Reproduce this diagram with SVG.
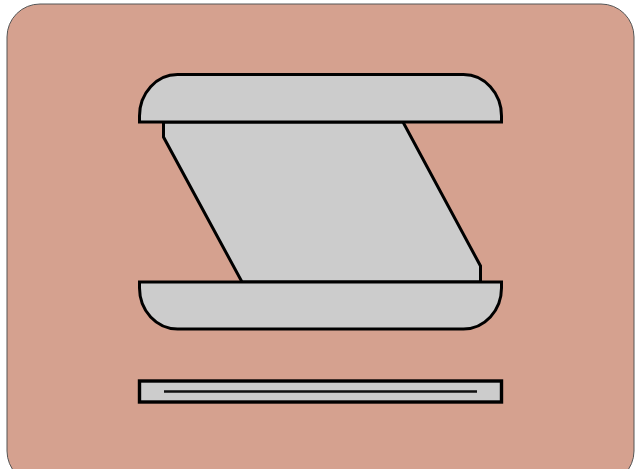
<svg xmlns="http://www.w3.org/2000/svg" width="638" height="469" viewBox="0 0 638 469">
<style>.p{fill:#ccc;stroke:#000;stroke-width:3;stroke-linejoin:miter}</style>
<rect id="bg" x="7" y="4" width="627" height="480" rx="33" ry="33" fill="#d5a18f" stroke="#555" stroke-width="1"/>
<g id="body"><path class="p" d="M163.500 122V137L242 282H480.500V266L403 122Z"/></g>
<g id="top"><path class="p" d="M139.500 122V116A38 41.500 0 0 1 177.500 74.500H463.500A38 41.500 0 0 1 501.500 116V122Z"/></g>
<g id="bottom"><path class="p" d="M139.500 282V288A38 41 0 0 0 177.500 329H463.500A38 41 0 0 0 501.500 288V282Z"/></g>
<g id="slot"><rect class="p" style="stroke-width:3.400" x="139.500" y="381" width="362" height="21"/><path d="M164 391.500H477" fill="none" stroke="#111" stroke-width="2.500"/></g>
</svg>
